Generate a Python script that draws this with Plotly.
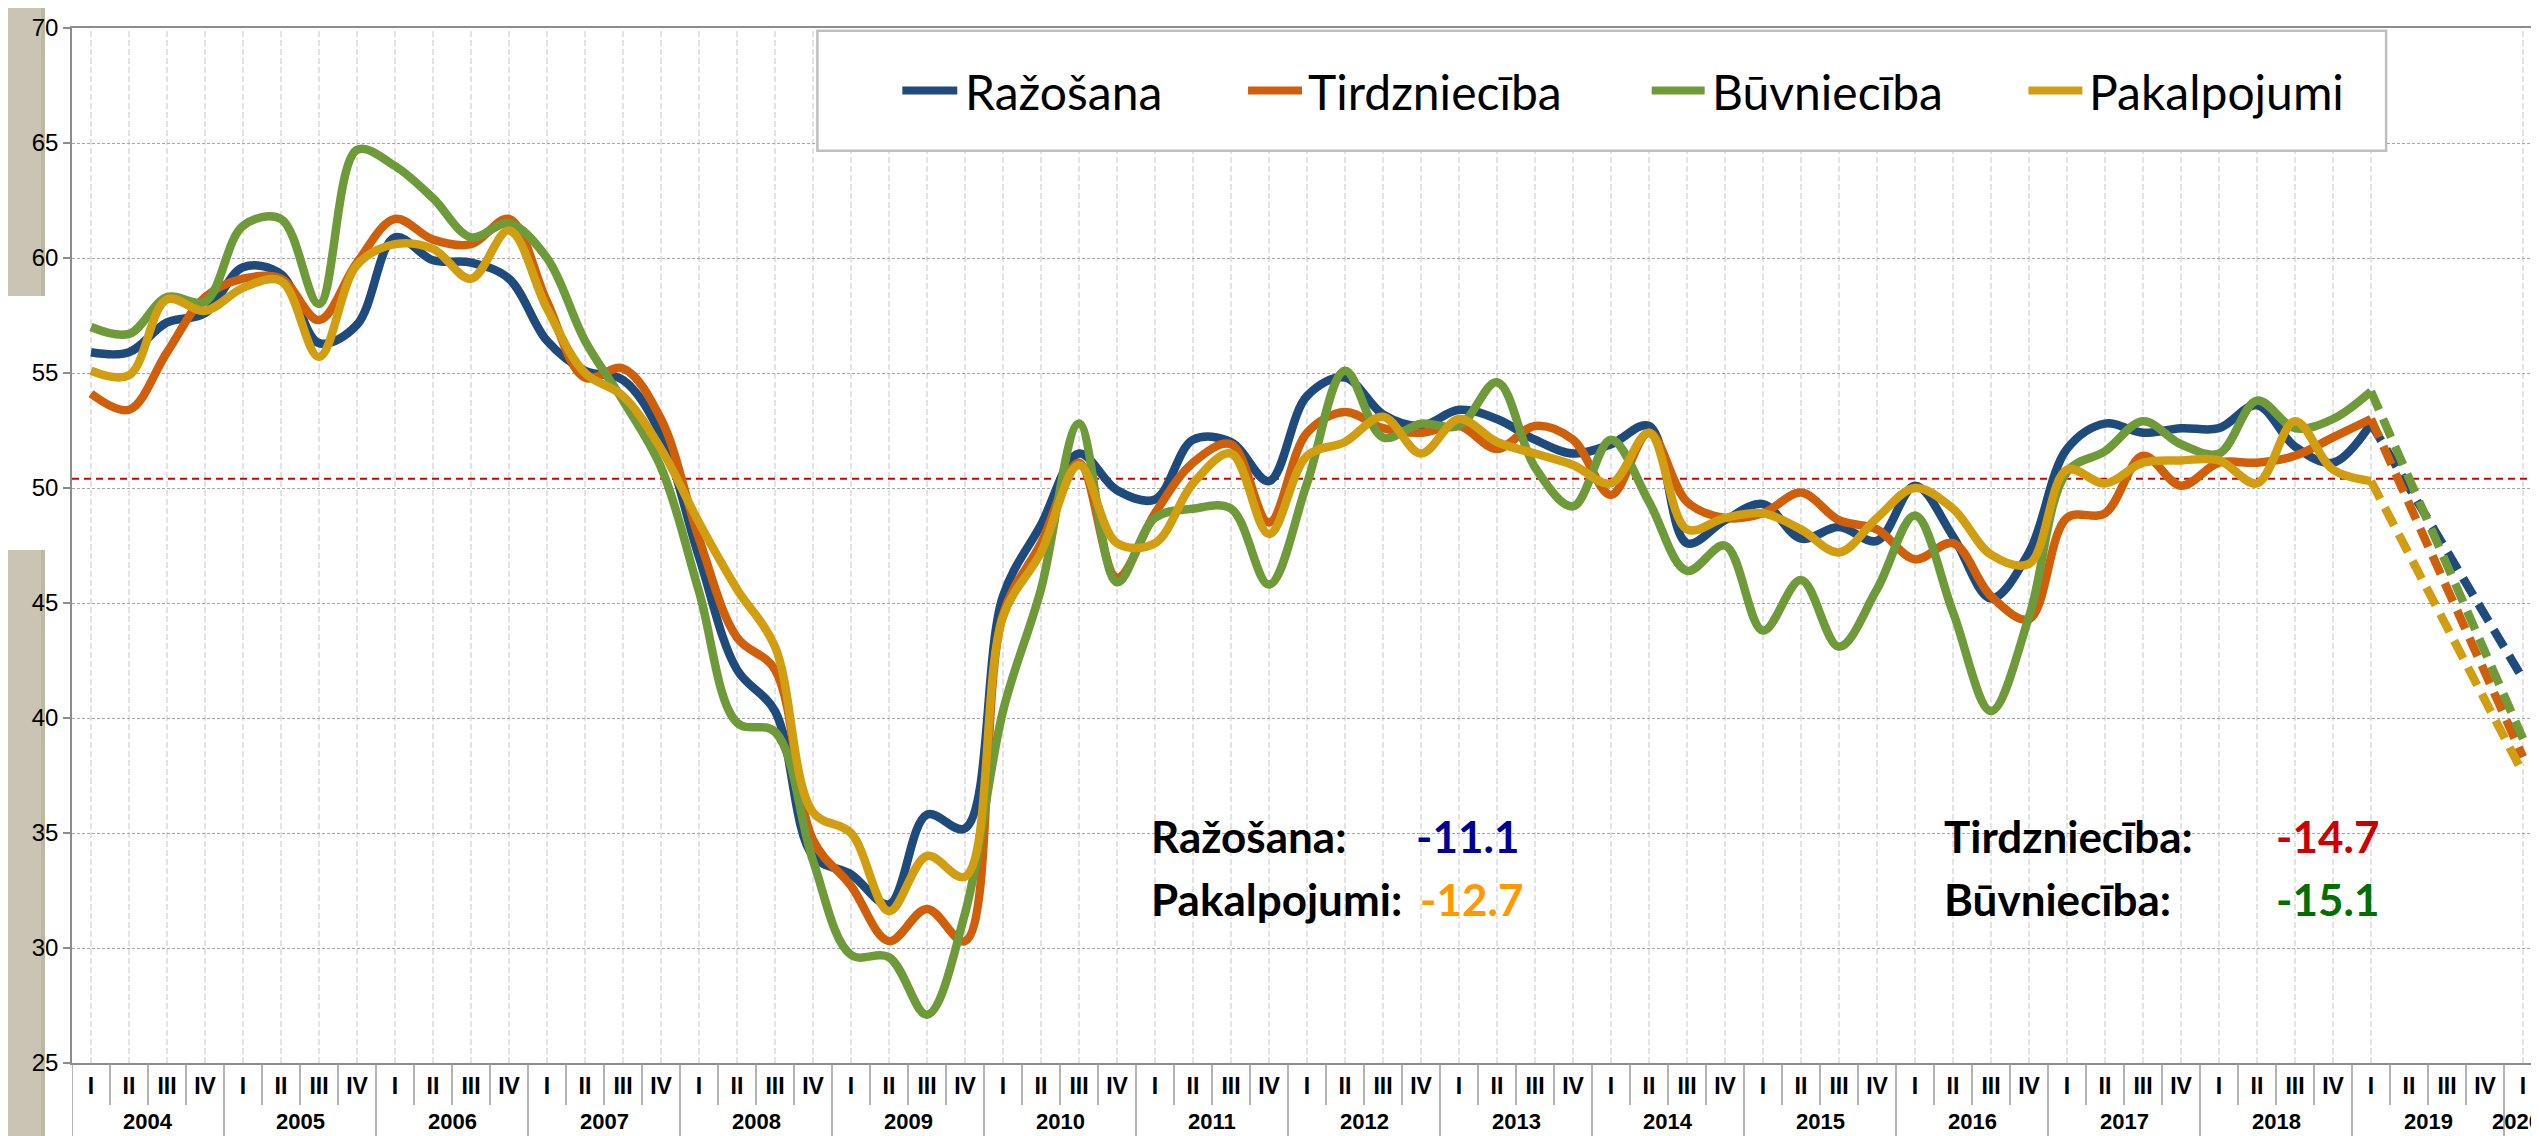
import plotly.graph_objects as go

# ---------------- data ----------------
year_labels = ["2004", "2005", "2006", "2007", "2008", "2009", "2010", "2011", "2012",
               "2013", "2014", "2015", "2016", "2017", "2018", "2019", "2020"]
quarter_names = ["I", "II", "III", "IV"]
quarter_labels = quarter_names * 16 + ["I"]
cat_index = list(range(len(quarter_labels)))

razosana = [55.9, 55.9, 57.2, 57.6, 59.6, 59.3, 56.3, 57.1,
            60.9, 59.9, 59.8, 59.1, 56.4, 55.1, 54.7, 52.3,
            47.0, 42.1, 40.3, 34.0, 33.2, 31.9, 35.8, 35.2,
            45.3, 48.4, 51.5, 49.9, 49.5, 52.1, 52.0, 50.3,
            54.0, 54.8, 53.2, 52.7, 53.4, 53.0, 52.1, 51.5,
            51.9, 52.7, 47.6, 48.6, 49.3, 47.8, 48.3, 47.7,
            50.1, 47.9, 45.2, 47.2, 51.7, 52.8, 52.4, 52.6,
            52.6, 53.6, 51.8, 51.1, 52.8, None, None, None, 41.7]
tirdznieciba = [54.1, 53.4, 55.9, 58.3, 59.1, 59.1, 57.3, 59.8,
                61.7, 60.8, 60.6, 61.7, 58.1, 54.8, 55.2, 53.0,
                47.8, 43.5, 42.1, 34.7, 32.7, 30.3, 31.7, 30.3,
                44.5, 47.6, 51.1, 46.1, 48.9, 51.1, 51.9, 48.5,
                52.4, 53.3, 52.6, 52.4, 52.7, 51.7, 52.7, 52.1,
                49.7, 52.4, 49.4, 48.7, 48.9, 49.8, 48.6, 48.2,
                46.9, 47.6, 45.3, 44.3, 48.7, 48.9, 51.4, 50.1,
                51.1, 51.1, 51.4, 52.2, 53.0, None, None, None, 38.3]
buvnieciba = [57.0, 56.7, 58.3, 58.1, 61.4, 61.7, 58.0, 64.7,
              64.0, 62.6, 60.9, 61.5, 60.0, 56.4, 53.8, 50.9,
              45.5, 39.8, 39.4, 33.8, 29.7, 29.6, 27.1, 31.5,
              40.3, 45.6, 52.8, 45.9, 48.7, 49.1, 49.1, 45.8,
              50.2, 55.1, 52.2, 52.8, 52.7, 54.6, 50.9, 49.2,
              52.1, 49.4, 46.4, 47.5, 43.8, 46.0, 43.1, 45.6,
              48.8, 44.6, 40.3, 44.4, 50.7, 51.6, 52.9, 51.9,
              51.5, 53.8, 52.6, 53.0, 54.2, None, None, None, 39.1]
pakalpojumi = [55.1, 54.9, 58.2, 57.7, 58.7, 59.0, 55.7, 59.7,
               60.6, 60.4, 59.1, 61.2, 57.8, 55.0, 54.0, 51.7,
               48.5, 45.6, 43.1, 35.9, 35.0, 31.6, 34.0, 33.1,
               44.4, 47.2, 51.0, 47.6, 47.6, 50.2, 51.5, 48.0,
               51.4, 52.0, 53.1, 51.5, 53.0, 52.0, 51.5, 51.0,
               50.2, 52.4, 48.2, 48.7, 48.9, 48.2, 47.2, 48.7,
               50.0, 49.1, 47.1, 46.7, 50.8, 50.2, 51.1, 51.2,
               51.2, 50.2, 52.9, 50.8, 50.3, None, None, None, 37.6]

series_names = ["Ražošana", "Tirdzniecība", "Būvniecība", "Pakalpojumi"]
series_values = [razosana, tirdznieciba, buvnieciba, pakalpojumi]
series_colors = ["#1F4A7C", "#CF5F0B", "#6F9A39", "#D19E12"]

long_term_avg = 50.4
forecast_start = 60  # 2019 I

change_labels = ["Ražošana:", "Pakalpojumi:", "Tirdzniecība:", "Būvniecība:"]
change_values = ["-11.1", "-12.7", "-14.7", "-15.1"]
change_colors = ["#000099", "#FF9900", "#CC0000", "#006E00"]

# ---------------- geometry helpers ----------------
W, H = 2539, 1136
ML, MR, MT, MB = 64, 3, 20, 81
PW, PH = W - ML - MR, H - MT - MB


def xp(px):
    return (px - ML) / PW


def yp(py):
    return (H - MB - py) / PH


fig = go.Figure()

for name, vals, color in zip(series_names, series_values, series_colors):
    fig.add_trace(go.Scatter(
        x=cat_index[:forecast_start + 1], y=vals[:forecast_start + 1],
        mode="lines", name=name, showlegend=False, hoverinfo="skip",
        line=dict(color=color, width=8.5, shape="spline", smoothing=1.0)))
    fig.add_trace(go.Scatter(
        x=cat_index[forecast_start:], y=vals[forecast_start:],
        mode="lines", name=name, showlegend=False, connectgaps=True, hoverinfo="skip",
        line=dict(color=color, width=8.5, dash="20px,10px", shape="spline")))

shapes = []
# vertical dashed gridlines where data exists
for i in cat_index:
    if razosana[i] is not None:
        shapes.append(dict(type="line", xref="x", yref="paper", x0=i, x1=i, y0=0, y1=1,
                           line=dict(color="#C6C6C6", width=1, dash="6px,3px"), layer="below"))
# long-term average
shapes.append(dict(type="line", xref="paper", yref="y", x0=0, x1=1,
                   y0=long_term_avg, y1=long_term_avg,
                   line=dict(color="#D00000", width=2, dash="7px,5px"), layer="between"))
# category separators
for i in cat_index + [len(cat_index)]:
    b = i - 0.5
    year_edge = (i % 4 == 0) or i == len(cat_index)
    shapes.append(dict(type="line", xref="x", yref="paper", x0=b, x1=b,
                       y0=0, y1=yp(H) if year_edge else yp(1097),
                       line=dict(color="#9A9A9A", width=1.5)))
# left decorative strip
for top, bot in [(0, 288), (542, H)]:
    shapes.append(dict(type="rect", xref="paper", yref="paper", x0=xp(0), x1=xp(33),
                       y0=yp(bot), y1=yp(top), fillcolor="#C9C4B3", line=dict(width=0),
                       layer="below"))
    shapes.append(dict(type="rect", xref="paper", yref="paper", x0=xp(33), x1=xp(37),
                       y0=yp(bot), y1=yp(top), fillcolor="#BDB8A1", line=dict(width=0),
                       layer="below"))
# legend box
shapes.append(dict(type="rect", xref="paper", yref="paper", x0=xp(810), x1=xp(2380),
                   y0=yp(142.7), y1=yp(22.7), fillcolor="white",
                   line=dict(color="#BFBFBF", width=2.5), layer="above"))

annotations = []
legend_sym_x = [(895, 950), (1241, 1295), (1645, 1698), (2022, 2076)]
legend_text_x = [956, 1299, 1703, 2081]
for (s0, s1), tx, name, color in zip(legend_sym_x, legend_text_x, series_names, series_colors):
    shapes.append(dict(type="line", xref="paper", yref="paper", x0=xp(s0), x1=xp(s1),
                       y0=yp(82.5), y1=yp(82.5), line=dict(color=color, width=8), layer="above"))
    annotations.append(dict(xref="paper", yref="paper", x=xp(tx), y=yp(84),
                            xanchor="left", yanchor="middle", showarrow=False, text=name,
                            font=dict(family="Lato", size=48, color="black")))

# year labels
n_cat = len(cat_index)
for k, yr in enumerate(year_labels):
    first = 4 * k
    last = min(4 * k + 3, n_cat - 1)
    if last - first >= 1:
        xa, xanc = (first + last) / 2, "center"
    else:
        xa, xanc = last + 0.5, "right"
    annotations.append(dict(xref="x", yref="paper", x=xa, y=yp(1127),
                            xanchor=xanc, yanchor="bottom", showarrow=False, text=yr,
                            borderpad=0,
                            font=dict(family="Liberation Sans", size=22, color="black",
                                      weight="bold")))

# change annotations
label_pos = [(1142, 828), (1142, 891), (1936, 828), (1936, 891)]
value_right = [1514, 1518, 2375, 2375]
for (lx, ly), vr, lab, val, col in zip(label_pos, value_right, change_labels,
                                       change_values, change_colors):
    annotations.append(dict(xref="paper", yref="paper", x=xp(lx), y=yp(ly),
                            xanchor="left", yanchor="middle", showarrow=False, text=lab,
                            font=dict(family="Lato", size=44, color="black", weight="bold")))
    annotations.append(dict(xref="paper", yref="paper", x=xp(vr), y=yp(ly),
                            xanchor="right", yanchor="middle", showarrow=False, text=val,
                            font=dict(family="Lato", size=44, color=col, weight="bold")))

fig.update_layout(
    width=W, height=H,
    margin=dict(l=ML, r=MR, t=MT, b=MB, pad=0),
    paper_bgcolor="white", plot_bgcolor="white",
    showlegend=False,
    shapes=shapes, annotations=annotations,
    xaxis=dict(range=[-0.5, n_cat - 0.5], tickmode="array",
               tickvals=cat_index, ticktext=quarter_labels,
               tickfont=dict(family="Liberation Sans", size=23, color="black", weight="bold"),
               ticks="", ticklabelstandoff=2,
               showgrid=False, zeroline=False,
               showline=True, linecolor="#8C8C8C", linewidth=1.5, mirror=True),
    yaxis=dict(range=[25, 70], tickmode="linear", tick0=25, dtick=5,
               tickfont=dict(family="Liberation Sans", size=24, color="black"),
               ticks="outside", ticklen=7, tickcolor="#8C8C8C", tickwidth=1.5,
               showgrid=True, gridcolor="#A6A6A6", griddash="3px,2px", gridwidth=1,
               zeroline=False, showline=True, linecolor="#8C8C8C", linewidth=1.5,
               mirror=True),
)

fig.write_html("out.html")
